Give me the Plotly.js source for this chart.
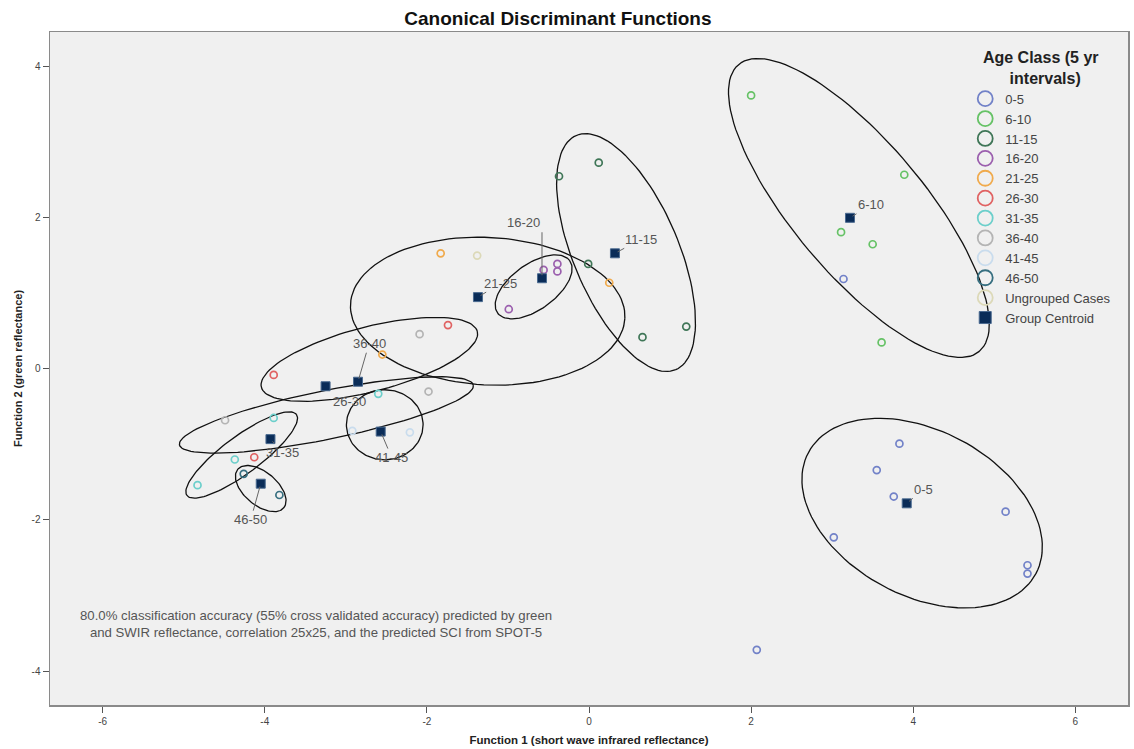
<!DOCTYPE html>
<html>
<head>
<meta charset="utf-8">
<script src="https://cdn.plot.ly/plotly-3.0.1.min.js"></script>
<style>html,body{margin:0;padding:0;background:#fff;}#chart{width:1134px;height:749px;}</style>
</head>
<body>
<div id="chart"></div>
<script>
// ---------- data ----------
const groups = ["0-5","6-10","11-15","16-20","21-25","26-30","31-35","36-40","41-45","46-50"];
const groupColors = ["#7282c8","#66c266","#3f7657","#9b5fae","#f0aa4c","#e06262","#6ccfcb","#b4b4b4","#c9dced","#376f80"];

const x_0_5   = [3.83, 3.55, 3.76, 5.14, 3.02, 5.41, 5.41, 2.07, 3.14];
const y_0_5   = [-0.99, -1.34, -1.69, -1.89, -2.23, -2.60, -2.71, -3.72, 1.19];
const x_6_10  = [2.00, 3.89, 3.11, 3.50, 3.61];
const y_6_10  = [3.62, 2.57, 1.81, 1.65, 0.35];
const x_11_15 = [0.12, -0.37, -0.01, 1.20, 0.66];
const y_11_15 = [2.73, 2.55, 1.39, 0.56, 0.42];
const x_16_20 = [-0.56, -0.39, -0.39, -0.99];
const y_16_20 = [1.31, 1.39, 1.29, 0.79];
const x_21_25 = [-1.83, 0.25, -2.55];
const y_21_25 = [1.53, 1.14, 0.19];
const x_26_30 = [-1.74, -3.89, -4.13];
const y_26_30 = [0.58, -0.08, -1.17];
const x_31_35 = [-2.60, -3.89, -4.37, -4.83];
const y_31_35 = [-0.33, -0.65, -1.20, -1.54];
const x_36_40 = [-2.09, -1.98, -4.49];
const y_36_40 = [0.46, -0.30, -0.68];
const x_41_45 = [-2.92, -2.21];
const y_41_45 = [-0.82, -0.84];
const x_46_50 = [-4.26, -3.82];
const y_46_50 = [-1.39, -1.67];
const x_ungrouped = [-1.38];
const y_ungrouped = [1.50];

const groupX = [x_0_5, x_6_10, x_11_15, x_16_20, x_21_25, x_26_30, x_31_35, x_36_40, x_41_45, x_46_50];
const groupY = [y_0_5, y_6_10, y_11_15, y_16_20, y_21_25, y_26_30, y_31_35, y_36_40, y_41_45, y_46_50];

// group centroids (same order as groups)
const centroidX = [3.92, 3.22, 0.32, -0.58, -1.37, -3.25, -3.93, -2.85, -2.57, -4.05];
const centroidY = [-1.78, 2.00, 1.53, 1.20, 0.95, -0.23, -0.93, -0.17, -0.83, -1.52];

// ellipses: centre, semi-axes (x-axis units), rotation (deg, clockwise on screen)
const ellCX    = [4.11, 3.33, 0.457, -0.683, -1.25, -2.71, -3.24, -2.52, -4.285, -4.05];
const ellCY    = [-1.91, 2.13, 1.54, 1.086, 0.764, 0.126, -0.61, -0.74, -1.14, -1.585];
const ellA     = [1.59, 2.31, 1.57, 0.55, 1.695, 1.376, 1.85, 0.473, 0.84, 0.37];
const ellB     = [1.02, 0.81, 0.65, 0.28, 0.91, 0.40, 0.30, 0.432, 0.23, 0.205];
const ellAngle = [28, 50, 67, -36, 3, -14.5, -11.5, 0, -36.5, 40];

const xTicks = [-6, -4, -2, 0, 2, 4, 6];
const xTickText = ["-6", "-4", "-2", "0", "2", "4", "6"];
const yTicks = [-4, -2, 0, 2, 4];
const yTickText = ["-4", "-2", "0", "2", "4"];

// ---------- layout geometry ----------
const W = 1134, H = 749;
const M = {l: 50, r: 6, t: 32, b: 44};
const xRange = [-6.65, 6.65], yRange = [-4.45, 4.46];
const kx = (W - M.l - M.r) / (xRange[1] - xRange[0]);
const ky = (H - M.t - M.b) / (yRange[1] - yRange[0]);

// label offsets (px) for centroid labels
const labelStyle = [
  {ax: 17, ay: -14}, {ax: 21, ay: -13}, {ax: 26, ay: -14},
  {ax: 0, ay: -46, xanchor: 'right', yanchor: 'bottom'},
  {ax: 23, ay: -14}, {ax: 24, ay: 15}, {ax: 12, ay: 13},
  {ax: 11, ay: -38}, {ax: 11, ay: 26}, {ax: -10, ay: 36}
];

const FONT = 'Liberation Sans, Arial, sans-serif';
const traces = [];

// ellipses
for (let i = 0; i < ellCX.length; i++) {
  const ex = [], ey = [];
  const th = ellAngle[i] * Math.PI / 180;
  for (let k = 0; k <= 120; k++) {
    const t = 2 * Math.PI * k / 120;
    const dx = ellA[i] * Math.cos(t) * Math.cos(th) - ellB[i] * Math.sin(t) * Math.sin(th);
    const dy = ellA[i] * Math.cos(t) * Math.sin(th) + ellB[i] * Math.sin(t) * Math.cos(th);
    ex.push(ellCX[i] + dx);
    ey.push(ellCY[i] - dy * kx / ky);
  }
  traces.push({x: ex, y: ey, type: 'scatter', mode: 'lines', line: {color: '#111', width: 1.3},
    showlegend: false, hoverinfo: 'skip'});
}

// group points
for (let i = 0; i < groups.length; i++) {
  traces.push({x: groupX[i], y: groupY[i], type: 'scatter', mode: 'markers', name: groups[i],
    marker: {symbol: 'circle-open', size: 7, color: groupColors[i], line: {width: 1.7, color: groupColors[i]}},
    showlegend: false});
}
traces.push({x: x_ungrouped, y: y_ungrouped, type: 'scatter', mode: 'markers', name: 'Ungrouped Cases',
  marker: {symbol: 'circle-open', size: 7, color: '#dcd9b8', line: {width: 1.7, color: '#dcd9b8'}}, showlegend: false});

// centroids
traces.push({x: centroidX, y: centroidY, type: 'scatter', mode: 'markers', name: 'Group Centroid',
  marker: {symbol: 'square', size: 9, color: '#0a2c58', line: {width: 1, color: '#4a6a90'}}, showlegend: false});

// legend entries
for (let i = 0; i < groups.length; i++) {
  traces.push({x: [null], y: [null], type: 'scatter', mode: 'markers', name: groups[i],
    marker: {symbol: 'circle-open', size: 15, color: groupColors[i], line: {width: 1.8, color: groupColors[i]}}});
}
traces.push({x: [null], y: [null], type: 'scatter', mode: 'markers', name: 'Ungrouped Cases',
  marker: {symbol: 'circle-open', size: 15, color: '#dcd9b8', line: {width: 1.8, color: '#dcd9b8'}}});
traces.push({x: [null], y: [null], type: 'scatter', mode: 'markers', name: 'Group Centroid',
  marker: {symbol: 'square', size: 12, color: '#0a2c58', line: {width: 1, color: '#4a6a90'}}});

const annotations = groups.map((g, i) => Object.assign({
  x: centroidX[i], y: centroidY[i], xref: 'x', yref: 'y', text: g,
  showarrow: true, arrowhead: 0, arrowwidth: 1, arrowcolor: '#666', standoff: 3,
  font: {family: FONT, size: 13, color: '#555'}
}, labelStyle[i]));

annotations.push({
  xref: 'paper', yref: 'paper', x: 0.2468, y: 0.1204, xanchor: 'center', yanchor: 'middle', align: 'center',
  showarrow: false,
  text: '80.0% classification accuracy (55% cross validated accuracy) predicted by green<br>and SWIR reflectance, correlation 25x25, and the predicted SCI from SPOT-5',
  font: {family: FONT, size: 13.2, color: '#555'}
});

const layout = {
  width: W, height: H,
  margin: M,
  paper_bgcolor: '#ffffff',
  plot_bgcolor: '#f0f0f0',
  font: {family: FONT, color: '#333'},
  title: {text: '<b>Canonical Discriminant Functions</b>', x: 0.492, xref: 'container', xanchor: 'center',
    y: 0.976, yref: 'container', yanchor: 'middle',
    font: {family: FONT, size: 19, color: '#111'}},
  xaxis: {range: xRange, tickvals: xTicks, ticktext: xTickText, ticks: 'outside', ticklen: 6, tickcolor: '#555', showgrid: false,
    zeroline: false, showline: true, mirror: true, linecolor: '#8a8a8a', linewidth: 1.5,
    tickfont: {family: FONT, size: 10, color: '#444'},
    title: {text: '<b>Function 1 (short wave infrared reflectance)</b>', standoff: 10,
      font: {family: FONT, size: 11.5, color: '#222'}},
    automargin: false},
  yaxis: {range: yRange, tickvals: yTicks, ticktext: yTickText, ticks: 'outside', ticklen: 6, tickcolor: '#555', showgrid: false,
    zeroline: false, showline: true, mirror: true, linecolor: '#8a8a8a', linewidth: 1.5,
    tickfont: {family: FONT, size: 10, color: '#444'},
    title: {text: '<b>Function 2 (green reflectance)</b>', standoff: 6,
      font: {family: FONT, size: 11, color: '#222'}},
    automargin: false},
  legend: {x: 0.849, y: 0.985, xanchor: 'left', yanchor: 'top', bgcolor: 'rgba(0,0,0,0)',
    font: {family: FONT, size: 13, color: '#444'},
    title: {text: '<b>Age Class (5 yr<br>&nbsp;&nbsp;&nbsp;&nbsp;&nbsp;&nbsp;intervals)</b>', side: 'top center',
      font: {family: FONT, size: 16, color: '#222'}},
    itemsizing: 'trace', tracegroupgap: 0, itemwidth: 30},
  annotations: annotations,
  showlegend: true
};

Plotly.newPlot('chart', traces, layout, {displayModeBar: false, staticPlot: true});
</script>
</body>
</html>
